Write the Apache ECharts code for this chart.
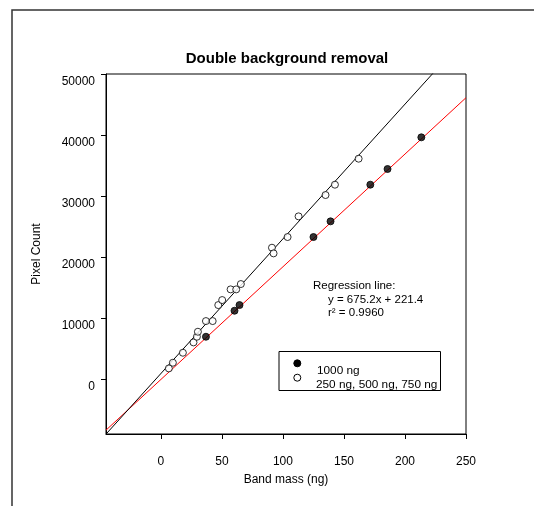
<!DOCTYPE html>
<html><head><meta charset="utf-8">
<script src="https://cdn.jsdelivr.net/npm/echarts@6/dist/echarts.min.js"></script>
<style>html,body{margin:0;padding:0;background:#fff}#c{width:534px;height:506px}</style>
</head><body><div id="c"></div>
<script>
// Band mass (ng) and pixel count, 1000 ng series
var filledX = [36.9, 60.3, 64.4, 125.0, 139.0, 171.6, 185.7, 213.4];
var filledY = [6940, 11200, 12130, 23280, 25850, 31860, 34430, 39620];
// 250 ng, 500 ng, 750 ng series
var openX = [6.5, 9.8, 18.0, 26.7, 29.5, 30.3, 36.9, 42.4, 47.0, 50.2, 57.1, 61.7, 65.5, 91.0, 92.3, 103.8, 112.8, 134.9, 142.6, 162.0];
var openY = [1749, 2678, 4317, 6011, 6940, 7760, 9508, 9508, 12131, 12951, 14700, 14700, 15574, 21530, 20601, 23279, 26667, 30164, 31858, 36120];
// fitted lines (endpoints)
var blackLineX = [-45, 250];
var blackLineY = [-9016, 56090];
var redLineX = [-45, 250];
var redLineY = [-8372, 46115];
var xTicks = [0, 50, 100, 150, 200, 250];
var yTicks = [0, 10000, 20000, 30000, 40000, 50000];
var legendLabels = ['1000 ng', '250 ng, 500 ng, 750 ng'];

function pairs(xs, ys){ return xs.map(function(x,i){ return [x, ys[i]]; }); }

var FONT = '"Liberation Sans", Arial, sans-serif';
var chart = echarts.init(document.getElementById('c'), null, {renderer:'canvas'});
chart.setOption({
  animation: false,
  backgroundColor: '#fff',
  textStyle: {fontFamily: FONT},
  title: {
    text: 'Double background removal',
    left: 287, top: 51, textAlign: 'center', padding: 0,
    textStyle: {fontFamily: FONT, fontSize: 15, fontWeight: 'bold', color: '#000'}
  },
  grid: {left: 106, top: 74, width: 360, height: 360, show: true, borderColor: '#000', borderWidth: 1, backgroundColor: 'transparent'},
  xAxis: {
    type: 'value', min: -45, max: 250,
    name: 'Band mass (ng)', nameLocation: 'middle', nameGap: 40,
    nameTextStyle: {fontFamily: FONT, fontSize: 12, color: '#000'},
    axisLine: {show: true, onZero: false, lineStyle: {color: '#000', width: 1}},
    axisTick: {show: true, inside: false, length: 5, lineStyle: {color: '#000'}, customValues: xTicks},
    axisLabel: {fontFamily: FONT, fontSize: 12, color: '#000', margin: 22, customValues: xTicks,
      formatter: function(v){ return String(v); }},
    splitLine: {show: false}
  },
  yAxis: {
    type: 'value', min: -9000, max: 50000,
    name: 'Pixel Count', nameLocation: 'middle', nameGap: 63, nameRotate: 90,
    nameTextStyle: {fontFamily: FONT, fontSize: 12, color: '#000'},
    axisLine: {show: true, onZero: false, lineStyle: {color: '#000', width: 1}},
    axisTick: {show: true, inside: false, length: 5, lineStyle: {color: '#000'}, customValues: yTicks},
    axisLabel: {fontFamily: FONT, fontSize: 12, color: '#000', margin: 11, verticalAlign: 'top', padding: [2, 0, 0, 0], customValues: yTicks,
      formatter: function(v){ return String(v); }},
    splitLine: {show: false}
  },
  series: [
    {type: 'line', data: pairs(redLineX, redLineY), symbol: 'none', lineStyle: {color: '#ff0000', width: 1}, clip: true, silent: true, z: 2},
    {type: 'line', data: pairs(blackLineX, blackLineY), symbol: 'none', lineStyle: {color: '#000', width: 1}, clip: true, silent: true, z: 2},
    {type: 'scatter', name: legendLabels[1], data: pairs(openX, openY), symbol: 'circle', symbolSize: 7,
      itemStyle: {color: '#fff', borderColor: '#000', borderWidth: 1}, z: 3},
    {type: 'scatter', name: legendLabels[0], data: pairs(filledX, filledY), symbol: 'circle', symbolSize: 7,
      itemStyle: {color: '#000', borderColor: '#000', borderWidth: 1}, z: 3}
  ],
  graphic: [
    {type: 'rect', shape: {x: 12, y: 10, width: 560, height: 540}, style: {fill: 'none', stroke: '#333', lineWidth: 1.5}, silent: true},
    {type: 'text', x: 313, y: 286, style: {text: 'Regression line:', font: '11.5px ' + FONT, fill: '#000', verticalAlign: 'middle'}},
    {type: 'text', x: 328, y: 299.5, style: {text: 'y = 675.2x + 221.4', font: '11.5px ' + FONT, fill: '#000', verticalAlign: 'middle'}},
    {type: 'text', x: 328, y: 313, style: {text: 'r\u00b2 = 0.9960', font: '11.5px ' + FONT, fill: '#000', verticalAlign: 'middle'}},
    {type: 'rect', shape: {x: 279, y: 351.5, width: 161.5, height: 39}, style: {fill: '#fff', stroke: '#000', lineWidth: 1}},
    {type: 'circle', shape: {cx: 297.3, cy: 363.3, r: 3.5}, style: {fill: '#000', stroke: '#000', lineWidth: 1}},
    {type: 'circle', shape: {cx: 297.3, cy: 377.7, r: 3.5}, style: {fill: '#fff', stroke: '#000', lineWidth: 1}},
    {type: 'text', x: 317, y: 371, style: {text: legendLabels[0], font: '11.8px ' + FONT, fill: '#000', verticalAlign: 'middle'}},
    {type: 'text', x: 316, y: 385, style: {text: legendLabels[1], font: '11.8px ' + FONT, fill: '#000', verticalAlign: 'middle'}}
  ]
});
</script>
</body></html>
